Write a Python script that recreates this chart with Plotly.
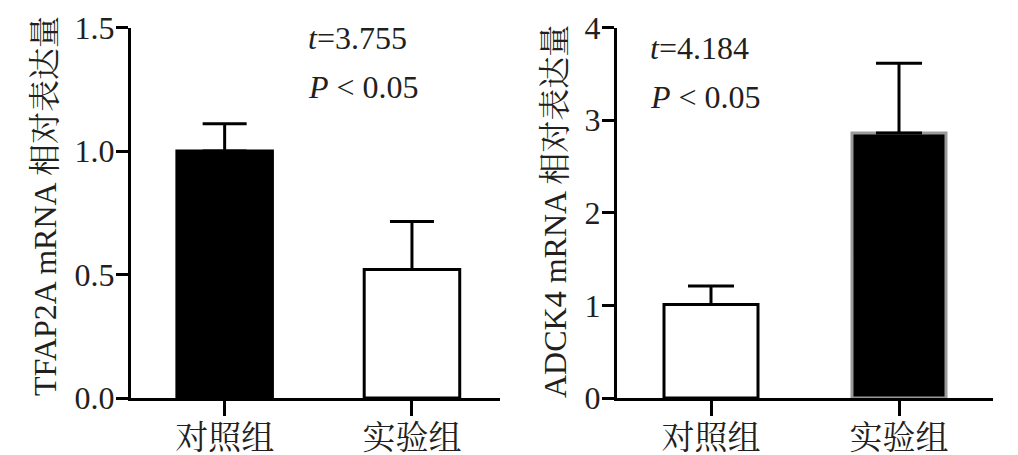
import plotly.graph_objects as go
from plotly.subplots import make_subplots

categories = ["对照组", "实验组"]

# Left panel: TFAP2A
tfap2a_mean = [1.0, 0.52]
tfap2a_err = [0.11, 0.195]
tfap2a_fill = ["black", "white"]
tfap2a_line = ["black", "black"]
left_title = "TFAP2A mRNA 相对表达量"
left_stats = ["<i>t</i>=3.755", "<i>P</i> &lt; 0.05"]
left_ticks = [0.0, 0.5, 1.0, 1.5]
left_ticktext = ["0.0", "0.5", "1.0", "1.5"]

# Right panel: ADCK4
adck4_mean = [1.01, 2.86]
adck4_err = [0.20, 0.755]
adck4_fill = ["white", "black"]
adck4_line = ["black", "#9a9a9a"]
right_title = "ADCK4 mRNA 相对表达量"
right_stats = ["<i>t</i>=4.184", "<i>P</i> &lt; 0.05"]
right_ticks = [0, 1, 2, 3, 4]

W, H = 1018, 455
OFF = 8  # page body margin offset compensation
FONT = "Liberation Serif, 'Times New Roman', 'Noto Serif CJK SC', 'Noto Sans CJK SC', serif"


def xp(px):
    return (px - OFF) / W


def yp(py):
    return 1 - (py - OFF) / H


fig = make_subplots(rows=1, cols=2)

fig.add_trace(go.Bar(
    x=categories, y=tfap2a_mean, width=0.51,
    marker=dict(color=tfap2a_fill, line=dict(color=tfap2a_line, width=3)),
    error_y=dict(type="data", symmetric=False, array=tfap2a_err,
                 arrayminus=[0, 0], color="black", thickness=3, width=22),
    showlegend=False), row=1, col=1)

fig.add_trace(go.Bar(
    x=categories, y=adck4_mean, width=0.5,
    marker=dict(color=adck4_fill, line=dict(color=adck4_line, width=3)),
    error_y=dict(type="data", symmetric=False, array=adck4_err,
                 arrayminus=[0, 0], color="black", thickness=3, width=23),
    showlegend=False), row=1, col=2)

ydom = [yp(398), yp(27.5)]
axis_common = dict(showgrid=False, zeroline=False, showline=True,
                   linecolor="black", linewidth=3, ticks="outside",
                   tickcolor="black", tickwidth=3, automargin=False,
                   tickfont=dict(family=FONT, size=32, color="#231f20"))

fig.update_xaxes(**axis_common)
fig.update_yaxes(**axis_common)

xfont = dict(family=FONT, size=33, color="#231f20")
fig.update_layout(
    template="none",
    xaxis=dict(domain=[xp(131), xp(500)], range=[-0.5, 1.47], ticklen=15,
               tickfont=xfont, ticklabelstandoff=-7),
    yaxis=dict(domain=ydom, range=[0, 1.5], tickvals=left_ticks,
               ticktext=left_ticktext, ticklen=12, ticklabelstandoff=-5),
    xaxis2=dict(domain=[xp(617), xp(993)], range=[-0.5, 1.5], ticklen=15,
                tickfont=xfont, ticklabelstandoff=-7),
    yaxis2=dict(domain=ydom, range=[0, 4], tickvals=right_ticks, ticklen=12,
                ticklabelstandoff=-5),
    width=W, height=H,
    margin=dict(l=0, r=0, t=0, b=0, pad=0),
    paper_bgcolor="white", plot_bgcolor="white",
    bargap=0.5,
)

title_font = dict(family=FONT, size=32, color="#231f20")
stat_font = dict(family=FONT, size=32, color="#231f20")
annotations = [
    dict(text=left_title, x=xp(45), y=yp(206), xref="paper", yref="paper",
         textangle=-90, showarrow=False, xanchor="center", yanchor="middle",
         font=title_font),
    dict(text=right_title, x=xp(555), y=yp(212), xref="paper", yref="paper",
         textangle=-90, showarrow=False, xanchor="center", yanchor="middle",
         font=title_font),
    dict(text=left_stats[0], x=xp(306), y=yp(38), xref="paper", yref="paper",
         showarrow=False, xanchor="left", yanchor="middle", font=stat_font),
    dict(text=left_stats[1], x=xp(306), y=yp(87), xref="paper", yref="paper",
         showarrow=False, xanchor="left", yanchor="middle", font=stat_font),
    dict(text=right_stats[0], x=xp(648), y=yp(48), xref="paper", yref="paper",
         showarrow=False, xanchor="left", yanchor="middle", font=stat_font),
    dict(text=right_stats[1], x=xp(648), y=yp(97), xref="paper", yref="paper",
         showarrow=False, xanchor="left", yanchor="middle", font=stat_font),
]
fig.update_layout(annotations=annotations)

fig.write_html("out.html")
